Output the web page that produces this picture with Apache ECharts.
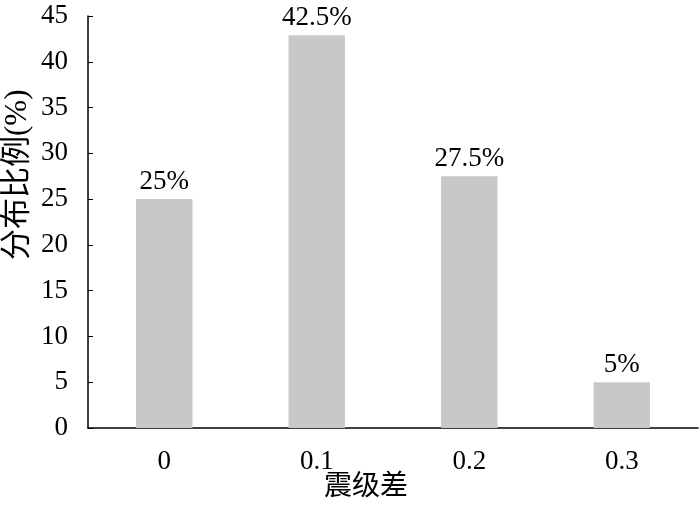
<!DOCTYPE html>
<html>
<head>
<meta charset="utf-8">
<script src="https://cdn.jsdelivr.net/npm/echarts@6/dist/echarts.min.js"></script>
<style>
  html, body { margin: 0; padding: 0; background: #fff; }
  #chart { width: 700px; height: 506px; }
</style>
</head>
<body>
<div id="chart"></div>
<script>
// 震级差分布
const categories = ['0', '0.1', '0.2', '0.3'];
const ratios = [25, 42.9, 27.5, 5]; // 0.1 的柱子在原图中略高于 42.5
const barLabels = ['25%', '42.5%', '27.5%', '5%'];

const serif = '"Liberation Serif", "Noto Sans CJK SC", serif';

const chart = echarts.init(document.getElementById('chart'));
chart.setOption({
  animation: false,
  grid: { left: 88, right: 2, top: 16, bottom: 78 },
  graphic: [
    {
      type: 'text',
      left: 324, top: 474,
      style: { text: '震级差', font: '28px ' + serif, fill: '#000' }
    },
    {
      type: 'text',
      x: 2, y: 260,
      rotation: Math.PI / 2,
      style: { text: '分布比例(%)', font: '31px ' + serif, fill: '#000' }
    }
  ],
  xAxis: {
    type: 'category',
    data: categories,
    axisLine: { lineStyle: { color: '#000', width: 1.5 } },
    axisTick: { inside: true, length: 5, lineStyle: { color: '#000' } },
    axisLabel: { color: '#000', fontSize: 27, fontFamily: serif, margin: 20 }
  },
  yAxis: {
    type: 'value',
    min: 0, max: 45, interval: 5,
    splitLine: { show: false },
    axisLine: { show: true, lineStyle: { color: '#000', width: 1.5 } },
    axisTick: { show: true, inside: true, length: 5, lineStyle: { color: '#000' } },
    axisLabel: { color: '#000', fontSize: 27, fontFamily: serif, margin: 20 }
  },
  series: [{
    type: 'bar',
    data: ratios,
    barWidth: '37%',
    itemStyle: { color: '#c8c8c8' },
    label: {
      show: true,
      position: 'top',
      distance: 4,
      color: '#000',
      fontSize: 27,
      fontFamily: serif,
      formatter: p => barLabels[p.dataIndex]
    }
  }]
});
</script>
</body>
</html>
